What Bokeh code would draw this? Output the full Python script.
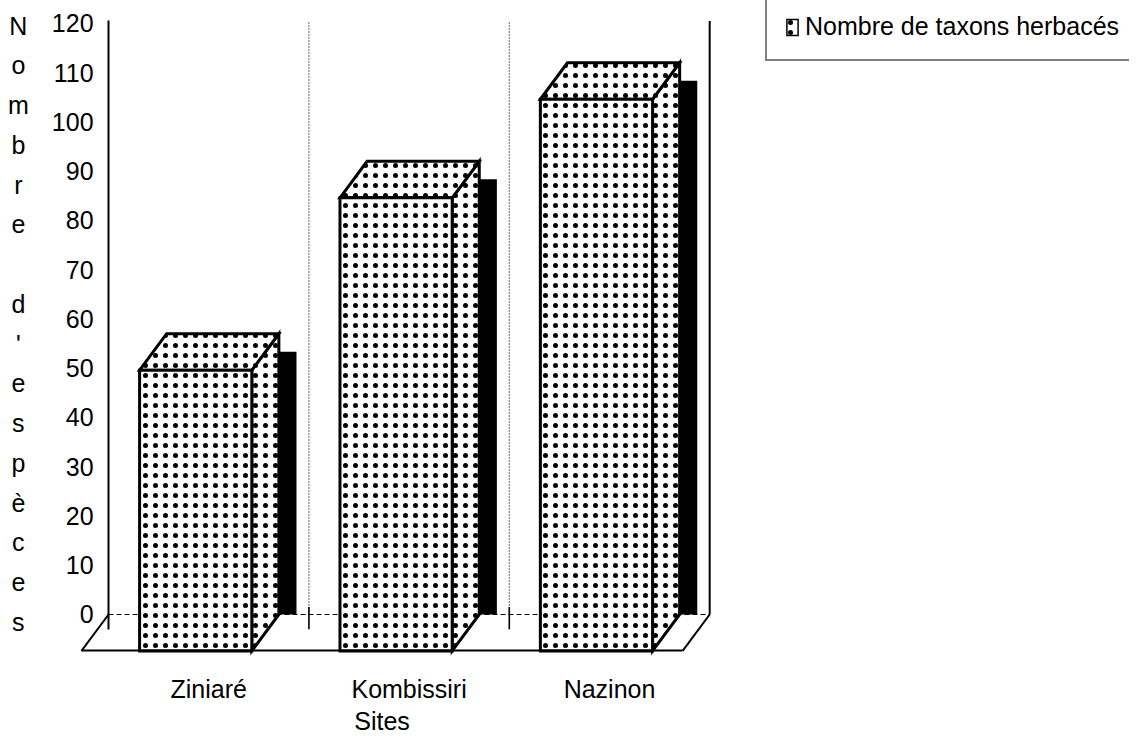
from bokeh.plotting import figure
from bokeh.models import (LinearAxis, FixedTicker, Range1d, Label, Legend, LegendItem, Grid)
from bokeh.embed import file_html
from bokeh.resources import INLINE

# ---------------- data ----------------
sites = ["Ziniaré", "Kombissiri", "Nazinon"]
taxons = [57, 92, 112]
y_ticks = [0, 10, 20, 30, 40, 50, 60, 70, 80, 90, 100, 110, 120]
y_title = "Nombre d'espèces"
x_title = "Sites"
legend_label = "Nombre de taxons herbacés"

# ---------------- layout constants ----------------
FONT = "Liberation Sans"
W, H = 1129, 733
DX, DY = -0.135, -7.4        # oblique depth offset (front relative to back)
BAR_L, BAR_R = 0.29, 0.85    # bar back face position within a category slot
SH_DX, SH_DY = 0.088, -3.65  # drop shadow offset
YTOP = 120.5
n = len(sites)

p = figure(width=W, height=H, output_backend="svg", toolbar_location=None,
           x_range=Range1d(-0.5392, 5.0951), y_range=Range1d(-24.16, 124.65),
           x_axis_location=None, y_axis_location=None, min_border=0,
           outline_line_color=None, background_fill_color="white",
           border_fill_color="white")

# ---- back wall: dividers, right wall, back baseline ----
div_x = [float(i) for i in range(1, n)]
p.segment(x0=div_x, y0=[0] * len(div_x), x1=div_x, y1=[YTOP] * len(div_x),
          line_color="black", line_width=1.2, line_dash="1 2")
p.segment(x0=div_x, y0=[1.5] * len(div_x), x1=div_x, y1=[-3] * len(div_x),
          line_color="black", line_width=1.6)
p.line([n, n], [0, YTOP], line_color="black", line_width=2)
p.line([0, n], [0, 0], line_color="black", line_width=1.2, line_dash="5 3")

# ---- floor side edges ----
p.line([0, DX], [0, DY], line_color="black", line_width=2)
p.line([n, n + DX], [0, DY], line_color="black", line_width=2)

# ---- shadows ----
sh_l = [i + BAR_L + SH_DX for i in range(n)]
sh_r = [i + BAR_R + SH_DX for i in range(n)]
sh_t = [v + SH_DY for v in taxons]
p.quad(left=sh_l, right=sh_r, bottom=[0] * n, top=sh_t,
       fill_color="black", line_color=None)

# ---- boxes ----
front_xs, front_ys, side_xs, side_ys, top_xs, top_ys = [], [], [], [], [], []
for i, v in enumerate(taxons):
    xb0, xb1 = i + BAR_L, i + BAR_R
    xf0, xf1 = xb0 + DX, xb1 + DX
    front_xs.append([xf0, xf1, xf1, xf0])
    front_ys.append([DY, DY, v + DY, v + DY])
    side_xs.append([xf1, xb1, xb1, xf1])
    side_ys.append([DY, 0, v, v + DY])
    top_xs.append([xf0, xb0, xb1, xf1])
    top_ys.append([v + DY, v, v, v + DY])

hatch = dict(fill_color="white", hatch_pattern="dot", hatch_color="black",
             hatch_scale=10, hatch_weight=0.2, line_color="black",
             line_join="miter")
p.patches(side_xs, side_ys, line_width=3, **hatch)
p.patches(top_xs, top_ys, line_width=3, **hatch)
front = p.patches(front_xs, front_ys, line_width=1.5, **hatch)
p.patches(front_xs, front_ys, fill_color=None, line_color="black",
          line_width=3, line_join="miter")

# ---- value axis (back wall) ----
yaxis = LinearAxis(fixed_location=0, ticker=FixedTicker(ticks=y_ticks),
                   bounds=(-3, YTOP))
yaxis.axis_line_width = 2
yaxis.major_tick_line_color = None
yaxis.minor_tick_line_color = None
yaxis.major_label_standoff = 9
yaxis.major_label_text_font = FONT
yaxis.major_label_text_font_size = "25px"
yaxis.major_label_text_color = "black"
p.add_layout(yaxis, "left")

# ---- category axis (floor front edge) ----
cat_centers = [i + 0.5 for i in range(n)]
xaxis = LinearAxis(fixed_location=DY, ticker=FixedTicker(ticks=cat_centers),
                   bounds=(DX, n + DX),
                   major_label_overrides={c: s for c, s in zip(cat_centers, sites)})
xaxis.axis_line_width = 2
xaxis.major_tick_line_color = None
xaxis.minor_tick_line_color = None
xaxis.major_label_standoff = 18
xaxis.major_label_text_font = FONT
xaxis.major_label_text_font_size = "25px"
xaxis.major_label_text_color = "black"
xaxis.axis_label = x_title
xaxis.axis_label_standoff = 1
xaxis.axis_label_text_font = FONT
xaxis.axis_label_text_font_size = "25px"
xaxis.axis_label_text_font_style = "normal"
xaxis.axis_label_text_color = "black"
p.add_layout(xaxis, "below")

# no grid lines
p.center = [r for r in p.center if not isinstance(r, Grid)]

# ---- stacked y title ----
p.add_layout(Label(x=-0.45, y=122.4, text="\n".join(y_title),
                   text_font=FONT, text_font_size="25px", text_color="black",
                   text_align="center", text_baseline="top",
                   text_line_height=1.42))

# ---- legend ----
legend = Legend(items=[LegendItem(label=legend_label, renderers=[front])],
                location=(765, 672), padding=18, label_standoff=6,
                glyph_width=14, glyph_height=20, label_height=28,
                label_text_font=FONT, label_text_font_size="25px",
                label_text_color="black", border_line_color="black",
                border_line_width=2, background_fill_color="white",
                background_fill_alpha=1.0, margin=0)
p.add_layout(legend)

open("out.html", "w", encoding="utf-8").write(file_html(p, INLINE))
